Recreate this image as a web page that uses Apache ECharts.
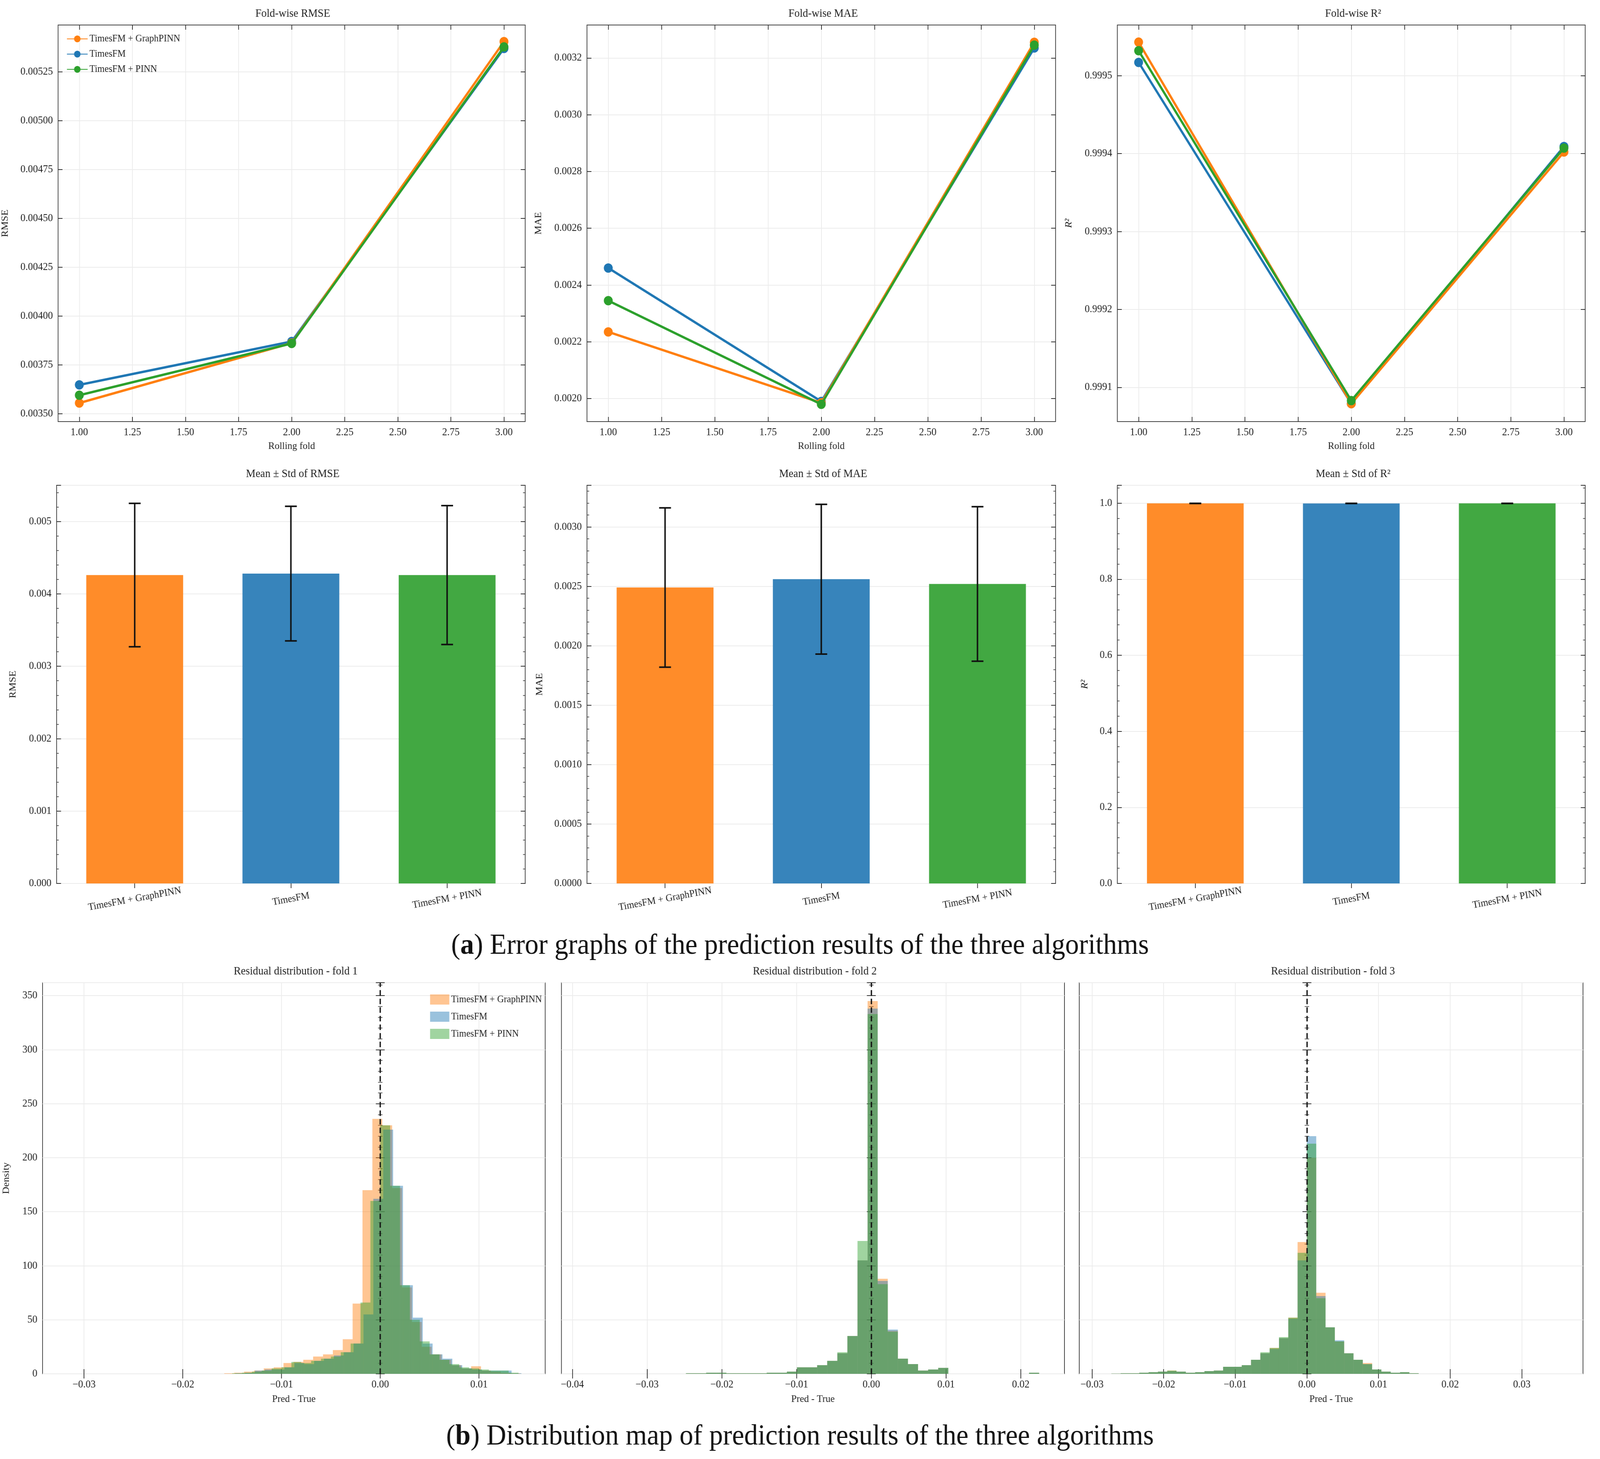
<!DOCTYPE html>
<html lang="en">
<head>
<meta charset="UTF-8">
<title>TimesFM error graphs</title>
<script src="https://cdn.jsdelivr.net/npm/echarts@6/dist/echarts.min.js"></script>
<style>html,body{margin:0;background:#fff;overflow:hidden}
#main{position:absolute;left:0;top:0;transform-origin:0 0}</style>
</head>
<body>
<div id="main" style="width:4326px;height:3734px;"></div>
<script type="text/javascript">
// ---- data ----
var models = ['TimesFM + GraphPINN', 'TimesFM', 'TimesFM + PINN'];
var colors = ['#ff7f0e', '#1f77b4', '#2ca02c'];
var barColors = ['#ff8c29', '#3784bb', '#42a842'];
var folds = [1, 2, 3];

var rmseGraph = [0.003555, 0.003862, 0.005405];
var rmseBase = [0.003648, 0.003870, 0.005370];
var rmsePinn = [0.003595, 0.003860, 0.005378];
var maeGraph = [0.002235, 0.001985, 0.003255];
var maeBase = [0.002460, 0.001990, 0.003235];
var maePinn = [0.002345, 0.001980, 0.003245];
var r2Graph = [0.999543, 0.999079, 0.999402];
var r2Base = [0.999517, 0.999079, 0.999409];
var r2Pinn = [0.999532, 0.999083, 0.999407];

var rmseMean = [0.00426, 0.00428, 0.00426];
var rmseStd = [0.00099, 0.00093, 0.00096];
var maeMean = [0.00249, 0.00256, 0.00252];
var maeStd = [0.00067, 0.00063, 0.00065];
var r2Mean = [0.99937, 0.99935, 0.99937];
var r2Std = [0.0002, 0.0002, 0.0002];

// histograms: first bin edge, bin width, densities per bin
var h1Start = [-0.0158, -0.0147, -0.0150];
var h1Width = 0.001;
var h1Graph = [0.5,1,2,3,5,6,10,11,13,16,18,22,32,65,170,236,230,172,80,48,25,18,13,8,5,7,3,2,1,0.5];
var h1Base = [0.5,1,3,4,4,6,10,9,12,14,17,20,28,55,162,226,174,82,52,28,18,14,8,5,4,3,3,3,0.5,0];
var h1Pinn = [0.5,1,2,3,5,6,11,10,12,14,16,20,28,66,160,230,174,82,50,30,18,13,9,6,5,4,3,3,1,0];

var h2Start = -0.02615;
var h2Width = 0.00135;
var h2Graph = [0,0.5,0.5,1,1,0.5,0.5,0.5,0.5,1,1,2,6,6,8,12,19,35,105,345,88,40,14,9,3,4,5.5,0,0,0,0,0,0,0,0,1];
var h2Base = [0,0.5,0.5,1,1,0.5,0.5,0.5,0.5,1,1,2,6,6,8,12,19,35,105,338,86,41,14,9,3,4,5.5,0,0,0,0,0,0,0,0,1];
var h2Pinn = [0,0.5,0.5,1,1,0.5,0.5,0.5,0.5,1,1,2,6,6,8,12,20,35,123,333,83,39,14,9,3,4,5.5,0,0,0,0,0,0,0,0,1];

var h3Start = -0.0273;
var h3Width = 0.0013;
var h3Graph = [0.2,0.5,0.5,1,1.5,2,3,2,1,1.5,2.5,3,6.5,6.5,8,13,19,24,33,52,122,200,75,43,30,19,13,10,4,2,1,1.5,0.5];
var h3Base = [0.2,0.5,0.5,1,1.5,2,2.5,2,1,1.5,2.5,3,6.5,6.5,8,13,19,23,33,51,105,220,72,43,31,19,13,9,4,2,1,1.5,0.5];
var h3Pinn = [0.2,0.5,0.5,1,1.5,2,3,2,1,1.5,2.5,3,6.5,6.5,8,13,20,24,34,52,112,213,70,43,30,19,13,9,4,2,1,1.5,0.5];

var foldTicks = [1, 1.25, 1.5, 1.75, 2, 2.25, 2.5, 2.75, 3];
var rmseTicks = [0.0035, 0.00375, 0.004, 0.00425, 0.0045, 0.00475, 0.005, 0.00525];
var maeTicks = [0.0020, 0.0022, 0.0024, 0.0026, 0.0028, 0.0030, 0.0032];
var r2Ticks = [0.9991, 0.9992, 0.9993, 0.9994, 0.9995];
var h1Ticks = [-0.03, -0.02, -0.01, 0, 0.01];
var h2Ticks = [-0.04, -0.03, -0.02, -0.01, 0, 0.01, 0.02];
var h3Ticks = [-0.03, -0.02, -0.01, 0, 0.01, 0.02, 0.03];

// fit the fixed 4326x3734 drawing to the actual window
var box = document.getElementById('main');
box.style.transform = 'scale(' + (window.innerWidth / 4326) + ',' + (window.innerHeight / 3734) + ')';

// ---- layout ----
var FONT = 'Liberation Serif';
var grids = [
    {left: 153, top: 64, width: 1267, height: 1015},
    {left: 1587, top: 64, width: 1267, height: 1015},
    {left: 3021, top: 64, width: 1265, height: 1015},
    {left: 153, top: 1242, width: 1267, height: 1019},
    {left: 1587, top: 1242, width: 1267, height: 1019},
    {left: 3021, top: 1242, width: 1265, height: 1019},
    {left: 115, top: 2515, width: 1359, height: 1001},
    {left: 1518, top: 2515, width: 1360, height: 1001},
    {left: 2918, top: 2515, width: 1362, height: 1001}
];
grids.forEach(function (g) { g.show = true; g.borderColor = '#444'; g.borderWidth = 2; });

function minus(s) { return String(s).replace('-', '\u2212'); }
var lab = {fontFamily: FONT, fontSize: 27, color: '#222', margin: 14};
var split = {show: true, lineStyle: {color: '#ececec', width: 2}};
var tick = {show: true, inside: true, length: 12, lineStyle: {color: '#333', width: 2}};
var minor = {show: true, splitNumber: 5, length: 6, lineStyle: {color: '#333', width: 1.5}};

var xAxes = [], yAxes = [];
function valAxis(list, dim, gi, min, max, ticks, fmt, name, extra) {
    var ax = {
        type: 'value', gridIndex: gi, min: min, max: max,
        axisLine: {show: false},
        axisTick: Object.assign({}, tick, ticks ? {customValues: ticks} : {}),
        axisLabel: Object.assign({}, lab, {formatter: fmt, showMaxLabel: !!ticks},
            ticks ? {customValues: ticks} : {}),
        splitLine: split,
        name: name, nameLocation: 'middle',
        nameTextStyle: {fontFamily: FONT, fontSize: 26, color: '#222'}
    };
    if (!ticks) ax.minorTick = minor;
    Object.assign(ax, extra || {});
    list.push(ax);
    var mirror = {
        type: 'value', gridIndex: gi, min: min, max: max,
        position: dim === 'x' ? 'top' : 'right',
        axisLine: {show: false}, axisLabel: {show: false}, splitLine: {show: false},
        axisTick: Object.assign({}, tick, ticks ? {customValues: ticks} : {})
    };
    if (!ticks) mirror.minorTick = minor;
    if (extra && extra.interval) mirror.interval = extra.interval;
    list.push(mirror);
    return list.length - 2;
}
function catAxis(gi) {
    xAxes.push({
        type: 'category', gridIndex: gi, data: models,
        axisLine: {show: false}, axisTick: Object.assign({}, tick, {alignWithLabel: true}),
        axisLabel: Object.assign({}, lab, {rotate: 10, fontSize: 26, align: 'center', margin: 40}),
        splitLine: {show: false}
    });
    xAxes.push({
        type: 'category', gridIndex: gi, data: models, position: 'top',
        axisLine: {show: false}, axisLabel: {show: false},
        axisTick: Object.assign({}, tick, {alignWithLabel: true})
    });
    return xAxes.length - 2;
}

var series = [];

function linePanel(gi, vals, ymin, ymax, yticks, digits, yname) {
    var xi = valAxis(xAxes, 'x', gi, 0.9, 3.1, foldTicks, function (v) { return v.toFixed(2); },
        'Rolling fold', {nameGap: 50});
    var yi = valAxis(yAxes, 'y', gi, ymin, ymax, yticks, function (v) { return v.toFixed(digits); },
        yname, {nameGap: digits === 5 ? 130 : 118});
    vals.forEach(function (arr, k) {
        series.push({
            type: 'line', name: models[k], xAxisIndex: xi, yAxisIndex: yi,
            data: folds.map(function (f, i) { return [f, arr[i]]; }),
            symbol: 'circle', symbolSize: 24,
            lineStyle: {width: 6, color: colors[k]}, itemStyle: {color: colors[k]},
            z: k === 0 ? 4 : (k === 1 ? 3 : 5)
        });
    });
}

function barPanel(gi, means, stds, ymax, interval, digits, yname) {
    var xi = catAxis(gi);
    var yi = valAxis(yAxes, 'y', gi, 0, ymax, null, function (v) { return v.toFixed(digits); },
        yname, {interval: interval, nameGap: digits === 4 ? 115 : (digits === 3 ? 105 : 75)});
    series.push({
        type: 'bar', name: 'bar' + gi, xAxisIndex: xi, yAxisIndex: yi, barWidth: '62%',
        data: means.map(function (m, i) { return {value: m, itemStyle: {color: barColors[i]}}; })
    });
    series.push({
        type: 'custom', name: 'err' + gi, xAxisIndex: xi, yAxisIndex: yi, z: 10,
        data: means.map(function (m, i) { return [i, m - stds[i], m + stds[i]]; }),
        renderItem: function (params, api) {
            var lo = api.coord([api.value(0), api.value(1)]);
            var hi = api.coord([api.value(0), api.value(2)]);
            var st = {stroke: '#111', lineWidth: 4};
            return {type: 'group', children: [
                {type: 'line', shape: {x1: lo[0], y1: lo[1], x2: hi[0], y2: hi[1]}, style: st},
                {type: 'line', shape: {x1: lo[0] - 16, y1: lo[1], x2: lo[0] + 16, y2: lo[1]}, style: st},
                {type: 'line', shape: {x1: hi[0] - 16, y1: hi[1], x2: hi[0] + 16, y2: hi[1]}, style: st}
            ]};
        }
    });
}

function histPanel(gi, starts, width, vals, xmin, xmax, xticks, showY) {
    var xi = valAxis(xAxes, 'x', gi, xmin, xmax, xticks, function (v) { return minus(v.toFixed(2)); },
        'Pred - True', {nameGap: 52});
    var yi = valAxis(yAxes, 'y', gi, 0, 362, null, function (v) { return v; },
        showY ? 'Density' : '', {interval: 50, nameGap: 85});
    if (!showY) yAxes[yi].axisLabel.show = false;
    vals.forEach(function (arr, k) {
        var s0 = Array.isArray(starts) ? starts[k] : starts;
        var c = echarts.color.modifyAlpha(colors[k], 0.45);
        var s = {
            type: 'custom', name: 'h:' + models[k], xAxisIndex: xi, yAxisIndex: yi,
            itemStyle: {color: c},
            data: arr.map(function (v, i) { return [s0 + i * width, s0 + (i + 1) * width, v]; }),
            renderItem: function (params, api) {
                var a = api.coord([api.value(0), api.value(2)]);
                var b = api.coord([api.value(1), 0]);
                return {type: 'rect', shape: {x: a[0], y: a[1], width: b[0] - a[0], height: b[1] - a[1]},
                    style: {fill: c}};
            }
        };
        if (k === 2) {
            s.markLine = {silent: true, symbol: 'none', label: {show: false},
                lineStyle: {color: '#111', type: [14, 8], width: 3.5}, data: [{xAxis: 0}]};
        }
        series.push(s);
    });
}

linePanel(0, [rmseGraph, rmseBase, rmsePinn], 0.00346, 0.00549, rmseTicks, 5, 'RMSE');
linePanel(1, [maeGraph, maeBase, maePinn], 0.001919, 0.003316, maeTicks, 4, 'MAE');
linePanel(2, [r2Graph, r2Base, r2Pinn], 0.999056, 0.999565, r2Ticks, 4, 'R²');
barPanel(3, rmseMean, rmseStd, 0.0055, 0.001, 3, 'RMSE');
barPanel(4, maeMean, maeStd, 0.00335, 0.0005, 4, 'MAE');
barPanel(5, r2Mean, r2Std, 1.047, 0.2, 1, 'R²');
histPanel(6, h1Start, h1Width, [h1Graph, h1Base, h1Pinn], -0.0342, 0.0167, h1Ticks, true);
histPanel(7, h2Start, h2Width, [h2Graph, h2Base, h2Pinn], -0.04146, 0.02584, h2Ticks, false);
histPanel(8, h3Start, h3Width, [h3Graph, h3Base, h3Pinn], -0.03178, 0.03854, h3Ticks, false);
yAxes.forEach(function (a) {
    if (a.name === 'R²') a.nameTextStyle.fontStyle = 'italic';
});

var titleTexts = ['Fold-wise RMSE', 'Fold-wise MAE', 'Fold-wise R²',
    'Mean ± Std of RMSE', 'Mean ± Std of MAE', 'Mean ± Std of R²',
    'Residual distribution - fold 1', 'Residual distribution - fold 2', 'Residual distribution - fold 3'];
var titles = titleTexts.map(function (t, i) {
    var g = grids[i];
    return {text: t, left: g.left + g.width / 2, top: g.top - 48, textAlign: 'center',
        textStyle: {fontFamily: FONT, fontSize: 29, fontWeight: 'normal', color: '#222'}};
});
var capStyle = {fontFamily: FONT, fontSize: 74, fontWeight: 'normal', color: '#111',
    rich: {b: {fontFamily: FONT, fontSize: 74, fontWeight: 'bold', color: '#111'}}};
titles.push({text: '({b|a}) Error graphs of the prediction results of the three algorithms',
    left: 'center', top: 2380, textStyle: capStyle});
titles.push({text: '({b|b}) Distribution map of prediction results of the three algorithms',
    left: 'center', top: 3636, textStyle: capStyle});

var chart = echarts.init(box);
chart.setOption({
    animation: false,
    backgroundColor: '#fff',
    title: titles,
    grid: grids,
    xAxis: xAxes,
    yAxis: yAxes,
    legend: [{
        data: models, left: 175, top: 82, orient: 'vertical', itemGap: 14,
        itemWidth: 56, itemHeight: 22,
        textStyle: {fontFamily: FONT, fontSize: 25, color: '#222'}
    }, {
        data: models.map(function (m, k) {
            return {name: 'h:' + m, icon: 'rect', itemStyle: {color: echarts.color.modifyAlpha(colors[k], 0.45)}};
        }),
        right: 4326 - 1470, top: 2540, orient: 'vertical', itemGap: 18,
        itemWidth: 52, itemHeight: 26,
        formatter: function (n) { return n.slice(2); },
        textStyle: {fontFamily: FONT, fontSize: 25, color: '#222'}
    }],
    series: series
});
</script>
</body>
</html>
